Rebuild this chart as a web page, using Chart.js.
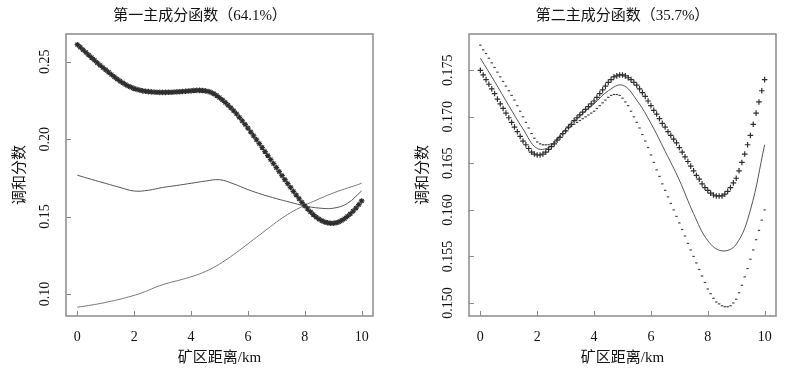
<html>
  <head>
    <meta charset="utf-8" />
    <title>主成分函数</title>
    <style>
      body {
        margin: 0;
        padding: 0;
        background-color: #ffffff;
      }
      #wrap {
        display: flex;
        width: 800px;
        height: 372px;
      }
      canvas {
        display: block;
      }
    </style>
    <script src="https://cdn.jsdelivr.net/npm/chart.js"></script>
  </head>
  <body>
    <div id="wrap">
      <canvas id="pc1" width="400" height="372"></canvas>
      <canvas id="pc2" width="400" height="372"></canvas>
    </div>
    <script>
      // x grid of the curves (km)
      const xFine = [
        0, 0.1, 0.2, 0.3, 0.4, 0.5, 0.6, 0.7, 0.8, 0.9,
        1, 1.1, 1.2, 1.3, 1.4, 1.5, 1.6, 1.7, 1.8, 1.9,
        2, 2.1, 2.2, 2.3, 2.4, 2.5, 2.6, 2.7, 2.8, 2.9,
        3, 3.1, 3.2, 3.3, 3.4, 3.5, 3.6, 3.7, 3.8, 3.9,
        4, 4.1, 4.2, 4.3, 4.4, 4.5, 4.6, 4.7, 4.8, 4.9,
        5, 5.1, 5.2, 5.3, 5.4, 5.5, 5.6, 5.7, 5.8, 5.9,
        6, 6.1, 6.2, 6.3, 6.4, 6.5, 6.6, 6.7, 6.8, 6.9,
        7, 7.1, 7.2, 7.3, 7.4, 7.5, 7.6, 7.7, 7.8, 7.9,
        8, 8.1, 8.2, 8.3, 8.4, 8.5, 8.6, 8.7, 8.8, 8.9,
        9, 9.1, 9.2, 9.3, 9.4, 9.5, 9.6, 9.7, 9.8, 9.9,
        10
      ];
      const xCoarse = [0, 0.5, 1, 1.5, 2, 2.5, 3, 3.5, 4, 4.5, 5, 5.5, 6, 6.5, 7, 7.5, 8, 8.5, 9, 9.5, 10];

      // 第一主成分
      const pc1Star = [
        0.2610, 0.2594, 0.2577, 0.2560, 0.2543, 0.2527, 0.2510, 0.2493, 0.2477, 0.2462,
        0.2447, 0.2432, 0.2417, 0.2402, 0.2388, 0.2375, 0.2363, 0.2352, 0.2342, 0.2334,
        0.2327, 0.2321, 0.2316, 0.2312, 0.2309, 0.2307, 0.2305, 0.2304, 0.2303, 0.2302,
        0.2302, 0.2302, 0.2303, 0.2303, 0.2304, 0.2305, 0.2306, 0.2308, 0.2309, 0.2311,
        0.2312, 0.2314, 0.2315, 0.2315, 0.2314, 0.2312, 0.2308, 0.2302, 0.2293, 0.2282,
        0.2268, 0.2253, 0.2237, 0.2220, 0.2202, 0.2183, 0.2163, 0.2141, 0.2118, 0.2095,
        0.2071, 0.2046, 0.2021, 0.1996, 0.1971, 0.1946, 0.1920, 0.1894, 0.1868, 0.1842,
        0.1816, 0.1790, 0.1764, 0.1738, 0.1713, 0.1688, 0.1663, 0.1639, 0.1615, 0.1592,
        0.1570, 0.1549, 0.1530, 0.1513, 0.1497, 0.1484, 0.1473, 0.1465, 0.1460, 0.1457,
        0.1457, 0.1460, 0.1466, 0.1475, 0.1487, 0.1501, 0.1517, 0.1535, 0.1555, 0.1577,
        0.1601
      ];
      const pc1Solid = [
        0.1767, 0.1740, 0.1714, 0.1688, 0.1665, 0.1670, 0.1688, 0.1701, 0.1715, 0.1729,
        0.1738, 0.1711, 0.1674, 0.1643, 0.1616, 0.1592, 0.1569, 0.1555, 0.1554, 0.1585,
        0.1666
      ];
      const pc1Dot = [
        0.0915, 0.0918, 0.0920, 0.0923, 0.0926, 0.0929, 0.0932, 0.0935, 0.0939, 0.0942,
        0.0946, 0.0950, 0.0954, 0.0958, 0.0962, 0.0966, 0.0971, 0.0976, 0.0981, 0.0986,
        0.0991, 0.0997, 0.1003, 0.1010, 0.1017, 0.1024, 0.1032, 0.1040, 0.1047, 0.1054,
        0.1060, 0.1066, 0.1071, 0.1076, 0.1081, 0.1085, 0.1090, 0.1095, 0.1100, 0.1105,
        0.1111, 0.1117, 0.1123, 0.1130, 0.1137, 0.1145, 0.1153, 0.1162, 0.1172, 0.1182,
        0.1193, 0.1205, 0.1217, 0.1229, 0.1242, 0.1255, 0.1268, 0.1282, 0.1296, 0.1310,
        0.1324, 0.1338, 0.1352, 0.1366, 0.1380, 0.1394, 0.1408, 0.1422, 0.1436, 0.1450,
        0.1464, 0.1477, 0.1490, 0.1502, 0.1514, 0.1525, 0.1536, 0.1546, 0.1555, 0.1564,
        0.1573, 0.1582, 0.1590, 0.1598, 0.1606, 0.1614, 0.1622, 0.1630, 0.1638, 0.1645,
        0.1652, 0.1659, 0.1666, 0.1672, 0.1678, 0.1684, 0.1690, 0.1696, 0.1702, 0.1708,
        0.1716
      ];

      // 第二主成分
      const pc2Star = [
        0.1750, 0.1745, 0.1740, 0.1735, 0.1730, 0.1725, 0.1719, 0.1714, 0.1709, 0.1704,
        0.1699, 0.1694, 0.1689, 0.1684, 0.1679, 0.1674, 0.1670, 0.1666, 0.1662, 0.1660,
        0.1659, 0.1659, 0.1660, 0.1662, 0.1665, 0.1668, 0.1671, 0.1675, 0.1678, 0.1682,
        0.1685, 0.1689, 0.1692, 0.1696, 0.1699, 0.1702, 0.1705, 0.1708, 0.1711, 0.1714,
        0.1717, 0.1721, 0.1725, 0.1729, 0.1733, 0.1737, 0.1740, 0.1743, 0.1744, 0.1745,
        0.1745, 0.1744, 0.1742, 0.1740, 0.1737, 0.1734, 0.1730, 0.1726, 0.1722, 0.1717,
        0.1712, 0.1707, 0.1703, 0.1698, 0.1693, 0.1689, 0.1684, 0.1680, 0.1676, 0.1672,
        0.1667, 0.1662, 0.1657, 0.1652, 0.1647, 0.1642, 0.1637, 0.1633, 0.1628, 0.1624,
        0.1621, 0.1618, 0.1616, 0.1615, 0.1615, 0.1615, 0.1617, 0.1620, 0.1624, 0.1629,
        0.1634, 0.1642, 0.1651, 0.1660, 0.1670, 0.1680, 0.1692, 0.1704, 0.1716, 0.1728,
        0.1740
      ];
      const pc2Solid = [
        0.1763, 0.1738, 0.1712, 0.1687, 0.1666, 0.1669, 0.1687, 0.1701, 0.1714, 0.1728,
        0.1734, 0.1718, 0.1693, 0.1663, 0.1632, 0.1596, 0.1567, 0.1556, 0.1563, 0.1600,
        0.1670
      ];
      const pc2Dot = [
        0.1777, 0.1772, 0.1768, 0.1763, 0.1758, 0.1753, 0.1748, 0.1743, 0.1738, 0.1733,
        0.1728, 0.1723, 0.1718, 0.1712, 0.1706, 0.1700, 0.1694, 0.1688, 0.1682, 0.1677,
        0.1673, 0.1671, 0.1670, 0.1670, 0.1670, 0.1671, 0.1673, 0.1676, 0.1679, 0.1682,
        0.1685, 0.1688, 0.1690, 0.1692, 0.1694, 0.1696, 0.1698, 0.1700, 0.1702, 0.1704,
        0.1706, 0.1709, 0.1712, 0.1715, 0.1718, 0.1721, 0.1723, 0.1724, 0.1724, 0.1723,
        0.1720, 0.1716, 0.1712, 0.1706, 0.1700, 0.1694, 0.1688, 0.1681, 0.1674, 0.1667,
        0.1659, 0.1651, 0.1643, 0.1636, 0.1628, 0.1621, 0.1614, 0.1607, 0.1600, 0.1593,
        0.1586, 0.1579, 0.1572, 0.1564, 0.1557, 0.1550, 0.1543, 0.1536, 0.1529, 0.1522,
        0.1515, 0.1510, 0.1505, 0.1501, 0.1499, 0.1497, 0.1496, 0.1496, 0.1497, 0.1500,
        0.1504, 0.1511, 0.1519, 0.1528, 0.1537, 0.1547, 0.1557, 0.1568, 0.1578, 0.1589,
        0.1600
      ];

      // axis ticks
      const xTicks = [0, 2, 4, 6, 8, 10];
      const xTickLabels = ["0", "2", "4", "6", "8", "10"];
      const pc1YTicks = [0.10, 0.15, 0.20, 0.25];
      const pc1YLabels = ["0.10", "0.15", "0.20", "0.25"];
      const pc2YTicks = [0.150, 0.155, 0.160, 0.165, 0.170, 0.175];
      const pc2YLabels = ["0.150", "0.155", "0.160", "0.165", "0.170", "0.175"];

      const serif = '"Liberation Serif", "Noto Sans CJK SC", serif';
      const ink = "#111111";

      const pts = (xs, ys) => xs.map((x, i) => ({ x: x, y: ys[i] }));

      // R style frame: grey box, inward tick marks, rotated y labels
      const rFrame = {
        id: "rFrame",
        afterDraw(chart, args, opts) {
          const { ctx, chartArea: a } = chart;
          const xs = chart.scales.x;
          const ys = chart.scales.y;
          ctx.save();
          ctx.strokeStyle = "#8a8a8a";
          ctx.lineWidth = 1.5;
          ctx.strokeRect(a.left, a.top, a.right - a.left, a.bottom - a.top);
          ctx.lineWidth = 1;
          ctx.beginPath();
          xs.ticks.forEach((t) => {
            const px = Math.round(xs.getPixelForValue(t.value)) + 0.5;
            ctx.moveTo(px, a.bottom);
            ctx.lineTo(px, a.bottom - 5);
          });
          ys.ticks.forEach((t) => {
            const py = Math.round(ys.getPixelForValue(t.value)) + 0.5;
            ctx.moveTo(a.left, py);
            ctx.lineTo(a.left + 5, py);
          });
          ctx.stroke();

          ctx.fillStyle = ink;
          ctx.font = "14px " + serif;
          ctx.textAlign = "center";
          ctx.textBaseline = "middle";
          ys.ticks.forEach((t, i) => {
            ctx.save();
            ctx.translate(a.left - 20.5, ys.getPixelForValue(t.value));
            ctx.rotate(-Math.PI / 2);
            ctx.fillText(opts.labels[i], 0, 0);
            ctx.restore();
          });
          ctx.restore();
        },
      };

      function makeChart(id, cfg) {
        const ctx = document.getElementById(id).getContext("2d");
        return new Chart(ctx, {
          type: "line",
          data: {
            datasets: [
              {
                label: "star",
                data: pts(xFine, cfg.star),
                showLine: false,
                pointStyle: cfg.starStyle,
                pointRadius: 2.8,
                pointBorderWidth: 1.2,
                pointBorderColor: "#2e2e2e",
                pointBackgroundColor: "#2e2e2e",
              },
              {
                label: "solid",
                data: pts(xCoarse, cfg.solid),
                borderColor: "#555555",
                borderWidth: 1,
                pointRadius: 0,
                tension: 0.4,
              },
              cfg.dotAsLine
                ? {
                    label: "dot",
                    data: pts(xFine, cfg.dot),
                    borderColor: "#777777",
                    borderWidth: 1,
                    pointRadius: 0,
                    tension: 0.3,
                  }
                : {
                    label: "dot",
                    data: pts(xFine, cfg.dot),
                    showLine: false,
                    pointStyle: "line",
                    pointRadius: 1.2,
                    pointBorderWidth: 1.2,
                    pointBorderColor: "#444444",
                  },
            ],
          },
          options: {
            responsive: false,
            animation: false,
            devicePixelRatio: 1,
            plugins: {
              legend: { display: false },
              tooltip: { enabled: false },
              title: {
                display: true,
                text: cfg.title,
                fullSize: cfg.titleFull,
                color: ink,
                font: { family: serif, size: 15, weight: "normal", lineHeight: 1.2 },
                padding: { top: 7, bottom: 9 },
              },
              rFrame: { labels: cfg.yLabels },
            },
            scales: {
              x: {
                type: "linear",
                min: -0.4,
                max: 10.4,
                grid: { display: false, drawTicks: false },
                border: { display: false },
                afterBuildTicks: (s) => {
                  s.ticks = xTicks.map((v) => ({ value: v }));
                },
                afterFit: (s) => {
                  s.height = 56;
                },
                ticks: {
                  autoSkip: false,
                  maxRotation: 0,
                  padding: 12.5,
                  color: ink,
                  font: { family: serif, size: 14 },
                  callback: (v, i) => xTickLabels[i],
                },
                title: {
                  display: true,
                  text: "矿区距离/km",
                  color: ink,
                  font: { family: serif, size: 15, lineHeight: 1.2 },
                  padding: { top: 0, bottom: 5.3 },
                },
              },
              y: {
                type: "linear",
                min: cfg.yMin,
                max: cfg.yMax,
                grid: { display: false, drawTicks: false },
                border: { display: false },
                afterBuildTicks: (s) => {
                  s.ticks = cfg.yTicks.map((v) => ({ value: v }));
                },
                afterFit: (s) => {
                  s.width = cfg.yWidth;
                },
                ticks: { display: false },
                title: {
                  display: true,
                  text: "调和分数",
                  color: ink,
                  font: { family: serif, size: 15, lineHeight: 1.2 },
                  padding: { top: cfg.yTitlePad, bottom: 0 },
                },
              },
              // empty right margin, keeps the full-width title centred on the panel
              gap: {
                type: "linear",
                position: "right",
                grid: { display: false, drawTicks: false },
                border: { display: false },
                ticks: { display: false },
                afterFit: (s) => {
                  s.width = cfg.gapRight;
                },
              },
            },
          },
          plugins: [rFrame],
        });
      }

      makeChart("pc1", {
        title: "第一主成分函数（64.1%）",
        titleFull: true,
        star: pc1Star,
        solid: pc1Solid,
        dot: pc1Dot,
        starStyle: "star",
        dotAsLine: true,
        yMin: 0.0858,
        yMax: 0.2679,
        yTicks: pc1YTicks,
        yLabels: pc1YLabels,
        yWidth: 66,
        gapRight: 27,
        yTitlePad: 11,
      });

      makeChart("pc2", {
        title: "第二主成分函数（35.7%）",
        titleFull: false,
        star: pc2Star,
        solid: pc2Solid,
        dot: pc2Dot,
        starStyle: "cross",
        dotAsLine: false,
        yMin: 0.1486,
        yMax: 0.1789,
        yTicks: pc2YTicks,
        yLabels: pc2YLabels,
        yWidth: 69,
        gapRight: 24,
        yTitlePad: 14,
      });
    </script>
  </body>
</html>
